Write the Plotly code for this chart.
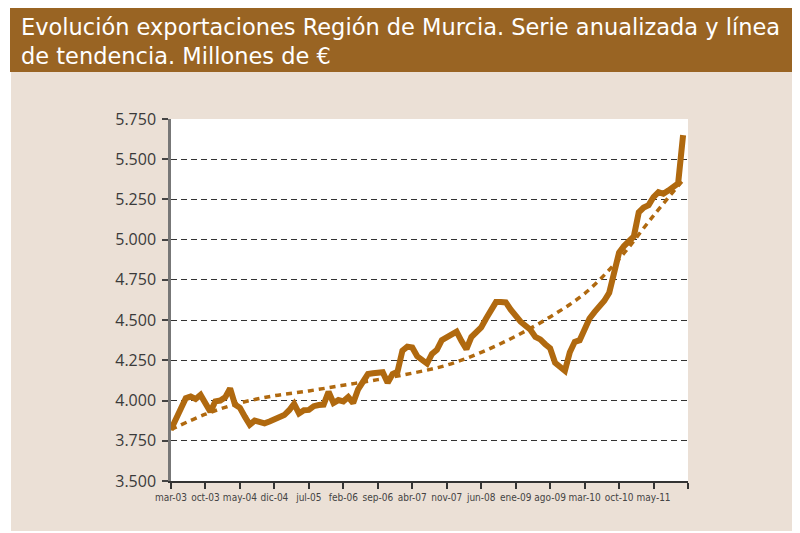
import plotly.graph_objects as go

# Monthly annualised exports, mar-03 .. nov-11 (millions of €)
months_idx = list(range(105))
exports = [
    3820, 3880, 3950, 4015, 4025, 4010, 4035, 3980, 3930, 3995,
    4000, 4020, 4075, 3975, 3955, 3900, 3850, 3875, 3865, 3858,
    3870, 3885, 3892, 3910, 3940, 3980, 3920, 3940, 3942, 3965,
    3972, 3975, 4055, 3985, 4003, 3995, 4022, 3985, 4070, 4120,
    4165, 4170, 4172, 4176, 4110, 4165, 4180, 4310, 4335, 4330,
    4275, 4255, 4230, 4290, 4315, 4375, 4395, 4410, 4428, 4370,
    4320, 4395, 4425, 4455, 4510, 4565, 4612, 4612, 4610, 4565,
    4520, 4490, 4465, 4440, 4395, 4380, 4350, 4325, 4235, 4210,
    4185, 4300, 4365, 4375, 4440, 4510, 4550, 4580, 4620, 4670,
    4800, 4920, 4960, 4990, 5020, 5170, 5200, 5215, 5265, 5295,
    5285, 5305, 5325, 5350, 5650,
]

# Trend line read at tick positions
trend_idx = [0, 7, 14, 21, 28, 35, 42, 49, 56, 63, 70, 77, 84, 91, 98, 104]
trend_vals = [3820, 3915, 3985, 4030, 4060, 4095, 4130, 4170, 4220, 4300,
              4400, 4520, 4665, 4880, 5150, 5370]

tick_pos = [0, 7, 14, 21, 28, 35, 42, 49, 56, 63, 70, 77, 84, 91, 98, 105]
tick_labels = ["mar-03", "oct-03", "may-04", "dic-04", "jul-05", "feb-06",
               "sep-06", "abr-07", "nov-07", "jun-08", "ene-09", "ago-09",
               "mar-10", "oct-10", "may-11", ""]

y_ticks = [3500, 3750, 4000, 4250, 4500, 4750, 5000, 5250, 5500, 5750]
y_labels = ["3.500", "3.750", "4.000", "4.250", "4.500", "4.750",
            "5.000", "5.250", "5.500", "5.750"]

title_text = ("Evolución exportaciones Región de Murcia. Serie anualizada y línea"
              "<br>de tendencia. Millones de €")

LINE = "#B0690F"
BROWN = "#996423"
BEIGE = "#EBE0D6"

W, H = 800, 533
OFF = 8  # page body margin offset
L, R, T, B = 171 - OFF, 688 - OFF, 119 - OFF, 481 - OFF


def px(x):
    return (x - OFF - L) / (R - L)


def py(y):
    return (B - (y - OFF)) / (B - T)


fig = go.Figure()
fig.add_trace(go.Scatter(x=trend_idx, y=trend_vals, mode="lines",
                         line=dict(color=LINE, width=3.5, dash="6px,5px", shape="spline"),
                         hoverinfo="skip", showlegend=False))
fig.add_trace(go.Scatter(x=months_idx, y=exports, mode="lines",
                         line=dict(color=LINE, width=6),
                         showlegend=False))

shapes = [
    dict(type="rect", xref="paper", yref="paper", x0=px(11), x1=px(810),
         y0=py(531), y1=py(72), fillcolor=BEIGE, line=dict(width=0), layer="below"),
    dict(type="rect", xref="paper", yref="paper", x0=px(10), x1=px(810),
         y0=py(72), y1=py(7), fillcolor=BROWN, line=dict(width=0), layer="below"),
    dict(type="rect", xref="paper", yref="paper", x0=0, x1=1,
         y0=0, y1=1, fillcolor="white", line=dict(width=0), layer="below"),
]

annotations = [
    dict(text=title_text, xref="paper", yref="paper", x=px(19), y=py(41.5),
         xanchor="left", yanchor="middle", align="left", showarrow=False,
         font=dict(family="DejaVu Sans", size=22.5, color="white")),
]

fig.update_layout(
    width=W, height=H,
    margin=dict(l=L, r=W - R, t=T, b=H - B, pad=0, autoexpand=False),
    paper_bgcolor="white", plot_bgcolor="rgba(0,0,0,0)",
    shapes=shapes, annotations=annotations,
    xaxis=dict(range=[0, 105], tickmode="array", tickvals=tick_pos, ticktext=tick_labels,
               showgrid=False, zeroline=False, showline=True, linecolor="#333333",
               linewidth=1.5, ticks="outside", ticklen=6, tickcolor="#333333",
               tickwidth=1.5, tickangle=0, automargin=False,
               tickfont=dict(family="DejaVu Sans Condensed, sans-serif",
                             size=10, color="#444444")),
    yaxis=dict(range=[3500, 5750], tickmode="array", tickvals=y_ticks, ticktext=y_labels,
               showgrid=True, gridcolor="#333333", gridwidth=1.3, griddash="6px,4px",
               zeroline=False, showline=True, linecolor="#777777", linewidth=2.5,
               ticks="outside", ticklen=6, tickcolor="#444444", tickwidth=1.5,
               automargin=False, ticklabelstandoff=3,
               tickfont=dict(family="Open Sans", size=16, color="#3a3a3a")),
)

fig.write_html("out.html")
